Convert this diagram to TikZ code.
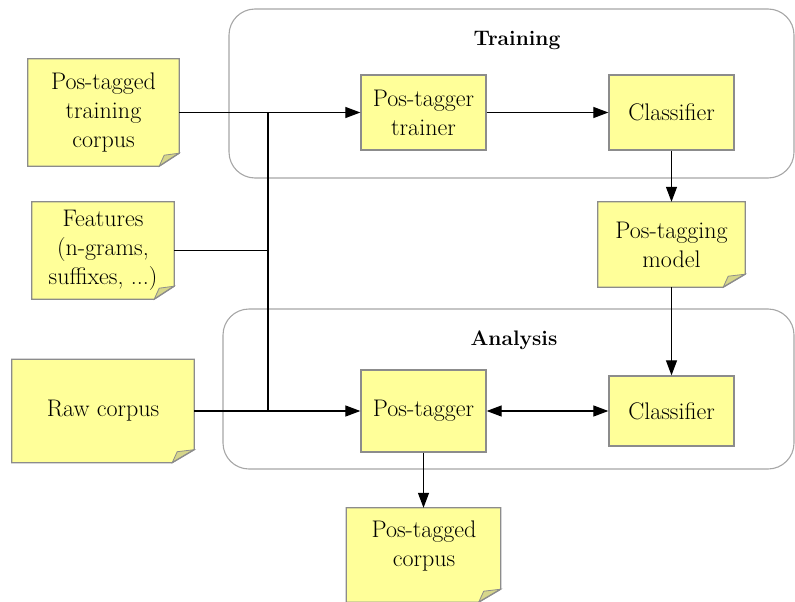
\documentclass[tikz,border=0pt]{standalone}
\usetikzlibrary{arrows.meta}
\definecolor{notefill}{HTML}{FFFF99}
\definecolor{foldfill}{HTML}{D6D68A}
\definecolor{boxline}{HTML}{8C8C8C}
\definecolor{grpline}{HTML}{A6A6A6}
\begin{document}
\begin{tikzpicture}[x=1pt,y=-1pt,
  every node/.style={font=\fontsize{24}{29}\selectfont, align=center, inner sep=0pt},
  procbox/.style={rectangle, fill=notefill, draw=boxline, line width=1.3pt},
  notebox/.style={rectangle},
  groupbox/.style={rectangle, draw=grpline, line width=1.1pt, rounded corners=26pt},
  grplabel/.style={font=\fontsize{21}{28}\selectfont\bfseries},
  arr/.style={-{Triangle[length=15pt,width=11pt]}, line width=1.2pt},
  dblarr/.style={{Triangle[length=15pt,width=11pt]}-{Triangle[length=15pt,width=11pt]}, line width=1.2pt},
  conn/.style={line width=1.2pt}
]
\useasboundingbox (0,0) rectangle (795,602);
% group boxes
\node[groupbox, minimum width=565pt, minimum height=169pt] (train) at (511.5,93.5) {};
\node[groupbox, minimum width=571pt, minimum height=160pt] (anal) at (508.5,389) {};
\node[grplabel] (tl) at (517,40) {Training};
\node[grplabel] (al) at (514,340) {Analysis};
% note frames
\node[notebox, minimum width=151pt, minimum height=107pt] (tc) at (103.5,112.5) {};
\node[notebox, minimum width=142pt, minimum height=97pt] (feat) at (103,250.5) {};
\node[notebox, minimum width=182pt, minimum height=103pt] (raw) at (103,411) {};
\node[notebox, minimum width=147pt, minimum height=85pt] (model) at (671.5,244.5) {};
\node[notebox, minimum width=154pt, minimum height=94pt] (out) at (423.5,555) {};
\foreach \n/\fw/\fh in {tc/20/13, feat/20/13, raw/22/13, model/22/13, out/22/13}{
  \fill[notefill] (\n.north west) -- (\n.north east) -- ([yshift=\fh pt]\n.south east) -- ([xshift=-\fw pt]\n.south east) -- (\n.south west) -- cycle;
  \fill[foldfill, draw=boxline, line width=0.8pt] ([yshift=\fh pt]\n.south east) -- ([xshift=-\fw pt]\n.south east) -- ([xshift=-\fw pt+5pt, yshift=\fh pt-2pt]\n.south east) -- cycle;
  \draw[boxline, line width=1.3pt] (\n.north west) -- (\n.north east) -- ([yshift=\fh pt]\n.south east) -- ([xshift=-\fw pt]\n.south east) -- (\n.south west) -- cycle;
}
% note texts
\node (tct) at (tc) {Pos-tagged\\training\\corpus};
\node (featt) at (feat) {Features\\(n-grams,\\suffixes, ...)};
\node (rawt) at (raw) {Raw corpus};
\node (modelt) at (model) {Pos-tagging\\model};
\node[anchor=north] (outt) at (424,521) {Pos-tagged\\corpus};
% process boxes
\node[procbox, minimum width=125pt, minimum height=75pt] (trainer) at (423.5,112.5) {Pos-tagger\\trainer};
\node[procbox, minimum width=125pt, minimum height=75pt] (cls1) at (671.5,112.5) {Classifier};
\node[procbox, minimum width=125pt, minimum height=82pt] (tagger) at (423.5,411) {Pos-tagger};
\node[procbox, minimum width=125pt, minimum height=70pt] (cls2) at (671.5,411) {Classifier};
% junctions
\coordinate (j1) at (268,112.5);
\coordinate (j3) at (268,411);
% connectors
\draw[arr] (tc.east) -- (trainer.west);
\draw[conn] (feat.east) -- (feat.east -| j1);
\draw[conn] (j1) -- (j3);
\draw[arr] (raw.east) -- (tagger.west);
\draw[arr] (trainer.east) -- (cls1.west);
\draw[arr] (cls1.south) -- (model.north);
\draw[arr] (model.south) -- (cls2.north);
\draw[dblarr] (tagger.east) -- (cls2.west);
\draw[arr] (tagger.south) -- (out.north);
\end{tikzpicture}
\end{document}
